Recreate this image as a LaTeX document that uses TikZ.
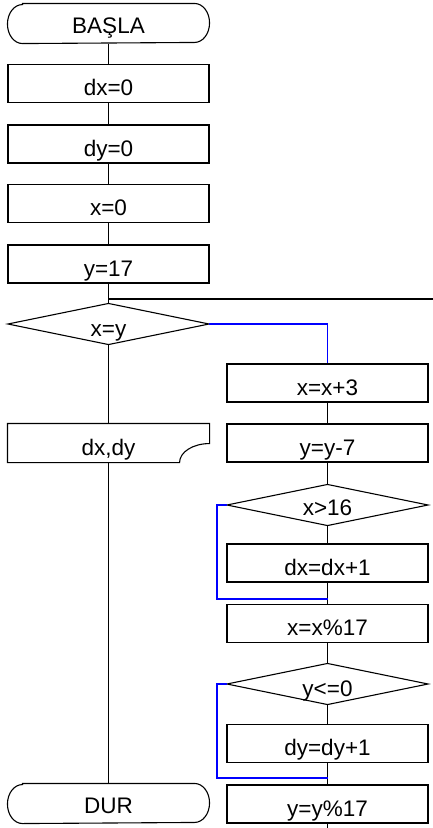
\documentclass[tikz,border=0pt]{standalone}
\usepackage{fontspec}
\setmainfont{Liberation Sans}
\newcommand\termshape[1]{%
  \draw ([xshift=15pt]#1.north west) -- ([xshift=-15pt]#1.north east)
    arc[start angle=90,end angle=-90,x radius=15pt,y radius=19.5pt]
    -- ([xshift=15pt]#1.south west)
    arc[start angle=270,end angle=90,x radius=15pt,y radius=19.5pt] -- cycle;}
\newcommand\diashape[1]{%
  \draw (#1.west) -- (#1.north) -- (#1.east) -- (#1.south) -- cycle;}
\begin{document}
\begin{tikzpicture}[x=1pt,y=-1pt,line width=1.1pt,
  txt/.style={font=\fontsize{22.5}{22.5}\selectfont,text height=24.5pt,text depth=0pt},
  box/.style={txt,draw,minimum width=201pt,minimum height=38pt,inner sep=0pt},
  term/.style={txt,text height=19pt,minimum width=201pt,minimum height=39pt,inner sep=0pt},
  dia/.style={txt,minimum width=200pt,minimum height=40pt,inner sep=0pt},
  doc/.style={txt,minimum width=201pt,minimum height=38pt,inner sep=0pt},
  loopline/.style={draw=blue}]
\fill[white] (0,0) rectangle (433,828);
\useasboundingbox (0,0) rectangle (433,828);
% left column
\node[term] (start) at (108.5,23.5) {BAŞLA};
\termshape{start}
\node[box] (dx0) at (108.5,83.5) {dx=0};
\node[box] (dy0) at (108.5,144) {dy=0};
\node[box] (x0) at (108.5,203.5) {x=0};
\node[box] (y17) at (108.5,264) {y=17};
\node[dia] (xy) at (108.5,324) {x=y};
\diashape{xy}
\node[doc] (out) at (108.5,443) {dx,dy};
\draw (out.south west) -- (out.north west) -- (out.north east)
  -- ([yshift=19pt]out.south east)
  arc[start angle=90,end angle=180,x radius=30pt,y radius=19pt]
  -- cycle;
\node[term] (stop) at (108.5,803.5) {DUR};
\termshape{stop}
% right column
\node[box] (a1) at (327.5,383) {x=x+3};
\node[box] (a2) at (327.5,443) {y=y-7};
\node[dia,text height=21pt] (d1) at (327.5,505) {x>16};
\diashape{d1}
\node[box] (a3) at (327.5,563) {dx=dx+1};
\node[box] (a4) at (327.5,623.5) {x=x\%17};
\node[dia] (d2) at (327.5,684) {y<=0};
\diashape{d2}
\node[box] (a5) at (327.5,743.5) {dy=dy+1};
\node[box] (a6) at (327.5,804) {y=y\%17};
% coordinates
\coordinate (j0) at (108.5,299);
\coordinate (r0) at (433,299);
\coordinate (j1) at (327.5,599);
\coordinate (j2) at (327.5,778);
\coordinate (e) at (327.5,828);
% connectors
\draw (start) -- (dx0);
\draw (dx0) -- (dy0);
\draw (dy0) -- (x0);
\draw (x0) -- (y17);
\draw (y17) -- (xy);
\draw (j0) -- (r0);
\draw (xy) -- (out);
\draw (out) -- (stop);
\draw[loopline] (xy.east) -| (a1.north);
\draw (a1) -- (a2);
\draw (a2) -- (d1);
\draw (d1) -- (a3);
\draw (a3) -- (a4);
\draw[loopline] (d1.west) -- ++(-10,0) |- (j1);
\draw (a4) -- (d2);
\draw (d2) -- (a5);
\draw (a5) -- (a6);
\draw[loopline] (d2.west) -- ++(-10,0) |- (j2);
\draw (a6) -- (e);
\end{tikzpicture}
\end{document}
